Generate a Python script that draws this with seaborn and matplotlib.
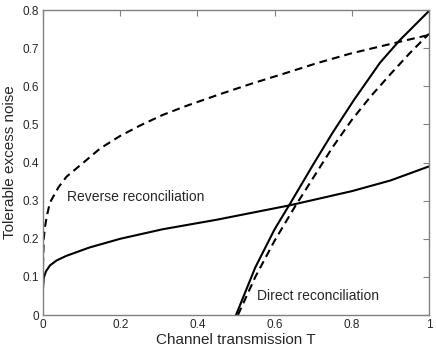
import matplotlib
matplotlib.use("Agg")
import matplotlib.pyplot as plt
import seaborn as sns

# reverse reconciliation, solid
rev_solid_T = [0, 0.002, 0.008, 0.018, 0.035, 0.06, 0.12, 0.2, 0.31, 0.45, 0.64, 0.8, 0.9, 1.0]
rev_solid_y = [0.07, 0.098, 0.115, 0.13, 0.143, 0.155, 0.177, 0.2, 0.225, 0.25, 0.288, 0.325, 0.353, 0.39]
# reverse reconciliation, dashed
rev_dash_T = [0, 0.002, 0.005, 0.01, 0.018, 0.04, 0.061, 0.087, 0.113, 0.148, 0.2, 0.251, 0.31, 0.372, 0.454, 0.54, 0.626, 0.71, 0.8, 0.924, 1.0]
rev_dash_y = [0.13, 0.2, 0.23, 0.26, 0.295, 0.335, 0.363, 0.385, 0.407, 0.437, 0.47, 0.497, 0.525, 0.549, 0.578, 0.607, 0.634, 0.661, 0.687, 0.717, 0.735]
# direct reconciliation, solid
dir_solid_T = [0.5, 0.55, 0.6, 0.64, 0.7, 0.75, 0.806, 0.873, 0.925, 1.0]
dir_solid_y = [0, 0.125, 0.225, 0.292, 0.395, 0.478, 0.565, 0.662, 0.722, 0.798]
# direct reconciliation, dashed
dir_dash_T = [0.505, 0.55, 0.6, 0.65, 0.7, 0.75, 0.8, 0.85, 0.9, 0.95, 1.0]
dir_dash_y = [0, 0.1, 0.195, 0.28, 0.36, 0.44, 0.512, 0.575, 0.632, 0.687, 0.738]

xticks = [0, 0.2, 0.4, 0.6, 0.8, 1]
xticklabels = ["0", "0.2", "0.4", "0.6", "0.8", "1"]
yticks = [0, 0.1, 0.2, 0.3, 0.4, 0.5, 0.6, 0.7, 0.8]
yticklabels = ["0", "0.1", "0.2", "0.3", "0.4", "0.5", "0.6", "0.7", "0.8"]

sns.set_style("white")
plt.rcParams["font.family"] = ["Liberation Sans", "DejaVu Sans"]

fig = plt.figure(figsize=(4.36, 3.5), dpi=100)
ax = fig.add_axes([0.0986, 0.1, 0.8854, 0.871])

for xs, ys, ls in [(rev_solid_T, rev_solid_y, "-"), (rev_dash_T, rev_dash_y, "--"),
                   (dir_solid_T, dir_solid_y, "-"), (dir_dash_T, dir_dash_y, "--")]:
    line = sns.lineplot(x=xs, y=ys, ax=ax, color="black", linestyle=ls, linewidth=1.5,
                        sort=False, estimator=None).lines[-1]
    if ls == "--":
        line.set_dashes((3.8, 2.4))

ax.set_xlim(0, 1)
ax.set_ylim(0, 0.8)
ax.set_xticks(xticks)
ax.set_xticklabels(xticklabels)
ax.set_yticks(yticks)
ax.set_yticklabels(yticklabels)
ax.tick_params(direction="in", length=4, width=0.8, color="#808080", labelsize=8.5,
               top=True, right=True, pad=3)
for s in ax.spines.values():
    s.set_color("#808080")
    s.set_linewidth(1.0)

ax.set_xlabel("Channel transmission T", fontsize=11, labelpad=1)
ax.set_ylabel("Tolerable excess noise", fontsize=11, labelpad=4)

ax.text(0.062, 0.31, "Reverse reconciliation", fontsize=10, va="center")
ax.text(0.555, 0.05, "Direct reconciliation", fontsize=10, va="center")

fig.savefig("out.png", dpi=100)
